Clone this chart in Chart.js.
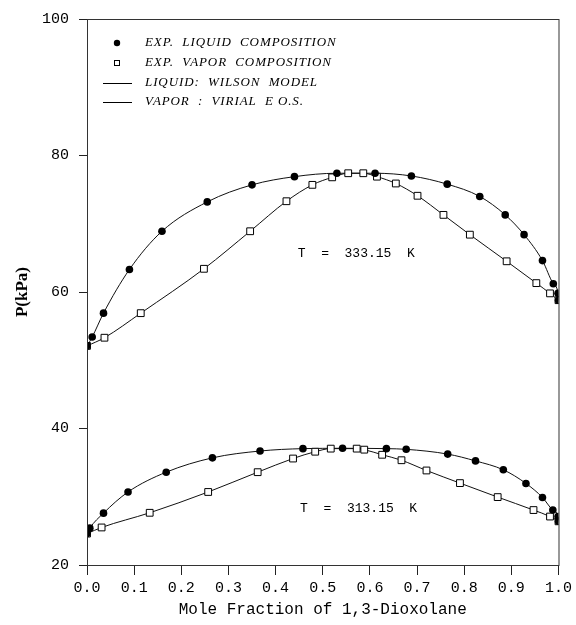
<!DOCTYPE html>
<html>
<head>
<meta charset="utf-8">
<script src="https://cdn.jsdelivr.net/npm/chart.js@4"></script>
<style>
  html, body { margin: 0; padding: 0; background: #fff; }
  #wrap { width: 576px; height: 625px; }
</style>
</head>
<body>
<div id="wrap"><canvas id="chart" width="576" height="625"></canvas></div>
<script>
// T = 333.15 K
const liqX333 = [0.000, 0.011, 0.035, 0.090, 0.159, 0.255, 0.350, 0.440, 0.530, 0.611, 0.688, 0.764, 0.833, 0.887, 0.927, 0.966, 0.989, 0.999, 1.000];
const liqP333 = [52.1, 53.4, 56.9, 63.3, 68.9, 73.2, 75.7, 76.9, 77.4, 77.4, 77.0, 75.8, 74.0, 71.3, 68.4, 64.6, 61.2, 59.8, 58.8];
const vapX333 = [0.000, 0.037, 0.114, 0.248, 0.346, 0.423, 0.478, 0.520, 0.554, 0.586, 0.615, 0.655, 0.701, 0.756, 0.812, 0.890, 0.953, 0.982, 1.000];
const vapP333 = [52.1, 53.3, 56.9, 63.4, 68.9, 73.3, 75.7, 76.8, 77.4, 77.4, 76.9, 75.9, 74.1, 71.3, 68.4, 64.5, 61.3, 59.8, 58.8];

// T = 313.15 K
const liqX313 = [0.000, 0.006, 0.035, 0.087, 0.168, 0.266, 0.367, 0.458, 0.542, 0.635, 0.677, 0.765, 0.824, 0.883, 0.931, 0.966, 0.988, 0.999, 1.000];
const liqP313 = [24.6, 25.4, 27.6, 30.7, 33.6, 35.7, 36.7, 37.05, 37.1, 37.05, 36.95, 36.25, 35.25, 33.95, 31.95, 29.9, 28.05, 27.1, 26.4];
const vapX313 = [0.000, 0.031, 0.133, 0.257, 0.362, 0.437, 0.484, 0.517, 0.572, 0.588, 0.626, 0.667, 0.720, 0.791, 0.871, 0.947, 0.982, 1.000];
const vapP313 = [24.6, 25.5, 27.65, 30.7, 33.6, 35.6, 36.6, 37.05, 37.05, 36.9, 36.15, 35.35, 33.85, 32.0, 29.95, 28.05, 27.1, 26.4];

const xTicks = [0, 0.1, 0.2, 0.3, 0.4, 0.5, 0.6, 0.7, 0.8, 0.9, 1.0];
const yTicks = [20, 40, 60, 80, 100];

const legendLabels = ['EXP.  LIQUID  COMPOSITION', 'EXP.  VAPOR  COMPOSITION', 'LIQUID:  WILSON  MODEL', 'VAPOR  :  VIRIAL  E O.S.'];
const notes = [
  {text: 'T  =  333.15  K', x: 0.447, y: 65.7},
  {text: 'T  =  313.15  K', x: 0.452, y: 28.3}
];

const pts = (xs, ys) => xs.map((x, i) => ({x: x, y: ys[i]}));

function dots(xs, ys) {
  return {data: pts(xs, ys), showLine: false, pointStyle: 'circle', pointRadius: 3.8,
    backgroundColor: '#000', borderColor: '#000', borderWidth: 0, order: 0};
}
function squares(xs, ys) {
  return {data: pts(xs, ys), showLine: false, pointStyle: 'rect', pointRadius: 4.8,
    backgroundColor: '#fff', borderColor: '#000', borderWidth: 1, order: 0};
}
function curve(xs, ys) {
  return {data: pts(xs, ys), showLine: true, pointRadius: 0, borderColor: '#111',
    borderWidth: 1, cubicInterpolationMode: 'monotone', fill: false, order: 1};
}

const extras = {
  id: 'extras',
  afterDraw(chart) {
    const ctx = chart.ctx, a = chart.chartArea;
    const xs = chart.scales.x, ys = chart.scales.y;
    ctx.save();
    // frame
    ctx.strokeStyle = '#333';
    ctx.lineWidth = 1;
    ctx.strokeRect(a.left + 0.5, a.top + 0.5, a.right - a.left, a.bottom - a.top);

    // legend
    ctx.fillStyle = '#000';
    ctx.beginPath();
    ctx.arc(117, 43, 3.2, 0, Math.PI * 2);
    ctx.fill();
    ctx.strokeStyle = '#000';
    ctx.strokeRect(114.5, 60.5, 5, 5);
    ctx.beginPath();
    ctx.moveTo(103, 83.5); ctx.lineTo(132, 83.5);
    ctx.moveTo(103, 102.5); ctx.lineTo(132, 102.5);
    ctx.stroke();
    ctx.font = 'italic 13px "Liberation Serif"';
    ctx.textBaseline = 'middle';
    ctx.textAlign = 'left';
    if ('letterSpacing' in ctx) ctx.letterSpacing = '0.9px';
    [43, 63, 83, 102].forEach((yy, i) => ctx.fillText(legendLabels[i], 145, yy));

    // temperature labels
    if ('letterSpacing' in ctx) ctx.letterSpacing = '0px';
    ctx.font = '13px "Liberation Mono"';
    notes.forEach(n => ctx.fillText(n.text, xs.getPixelForValue(n.x), ys.getPixelForValue(n.y)));
    ctx.restore();
  }
};

new Chart(document.getElementById('chart'), {
  type: 'scatter',
  data: {
    datasets: [
      dots(liqX333, liqP333), squares(vapX333, vapP333),
      dots(liqX313, liqP313), squares(vapX313, vapP313),
      curve(liqX333, liqP333), curve(vapX333, vapP333),
      curve(liqX313, liqP313), curve(vapX313, vapP313)
    ]
  },
  options: {
    responsive: false,
    animation: false,
    layout: {padding: {top: 16, right: 13, left: 0, bottom: 0}},
    plugins: {legend: {display: false}, tooltip: {enabled: false}},
    scales: {
      x: {
        type: 'linear', min: 0, max: 1,
        afterBuildTicks: (s) => { s.ticks = xTicks.map(v => ({value: v})); },
        afterFit: (s) => { s.height = 60; },
        grid: {drawOnChartArea: false, drawTicks: true, tickLength: 10, color: '#222'},
        border: {display: true, color: '#333'},
        ticks: {color: '#000', padding: 4, maxRotation: 0,
          font: {family: '"Liberation Mono"', size: 15},
          callback: (v) => v.toFixed(1)},
        title: {display: true, text: 'Mole Fraction of 1,3-Dioxolane', color: '#000',
          font: {family: '"Liberation Mono"', size: 16}, padding: {top: 0, bottom: 6}}
      },
      y: {
        type: 'linear', min: 20, max: 100,
        afterBuildTicks: (s) => { s.ticks = yTicks.map(v => ({value: v})); },
        afterFit: (s) => { s.width = 87; },
        grid: {drawOnChartArea: false, drawTicks: true, tickLength: 8, color: '#222'},
        border: {display: true, color: '#333'},
        ticks: {color: '#000', padding: 10,
          font: {family: '"Liberation Mono"', size: 15}},
        title: {display: true, text: 'P(kPa)', color: '#000',
          font: {family: '"Liberation Serif"', size: 17, weight: 'bold'}, padding: {top: 12, bottom: 0}}
      }
    }
  },
  plugins: [extras]
});
</script>
</body>
</html>
